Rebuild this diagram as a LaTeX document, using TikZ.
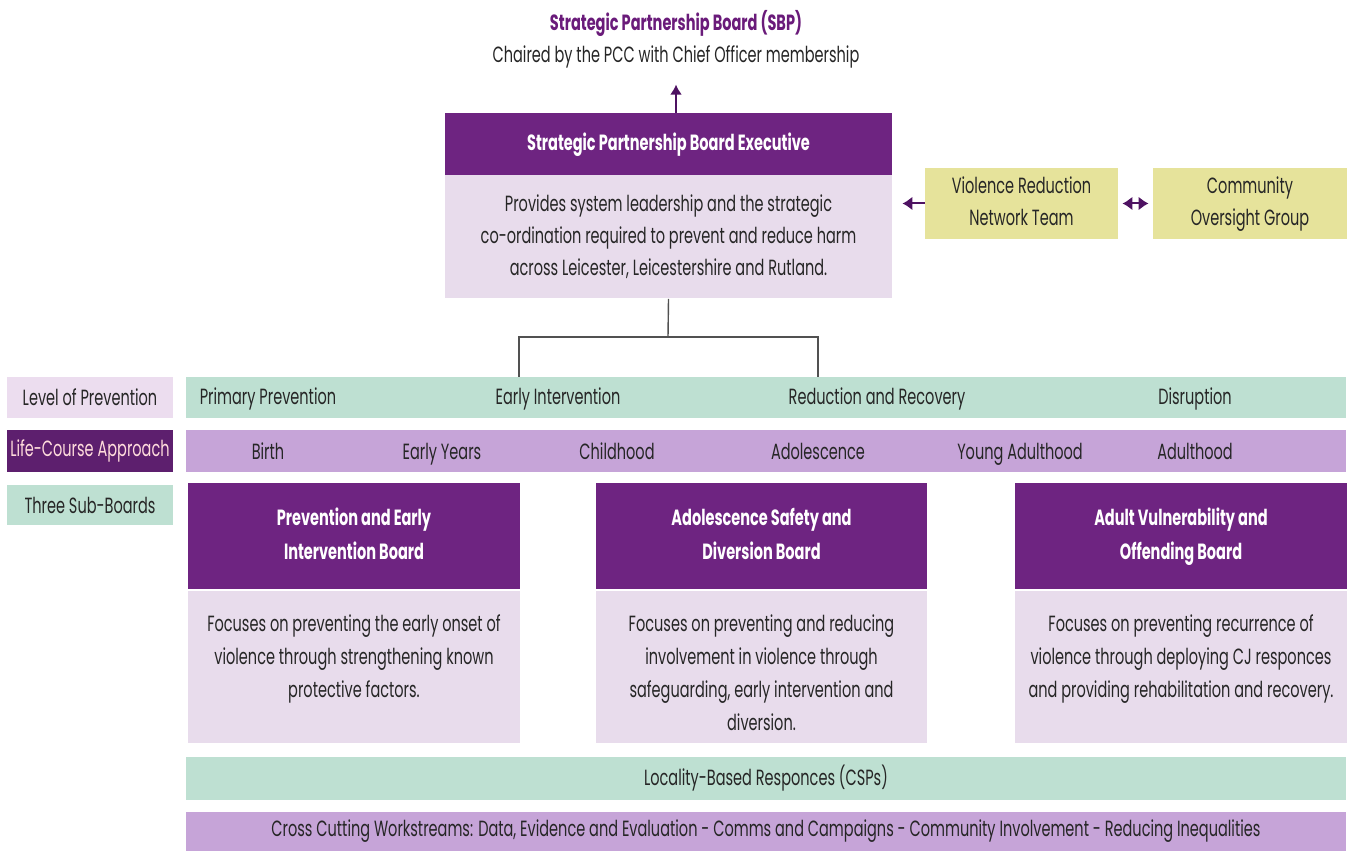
\documentclass[tikz,border=0pt]{standalone}
\usepackage{fontspec}
\setmainfont{Poppins}[FakeStretch=0.66]
\usepackage{xcolor}
\usetikzlibrary{arrows.meta}

\definecolor{darkpurple}{HTML}{6E2481}
\definecolor{lightbody}{HTML}{E8DCEC}
\definecolor{lavlabel}{HTML}{ECDDEF}
\definecolor{lavbar}{HTML}{C6A4D8}
\definecolor{mintbar}{HTML}{BEE0D2}
\definecolor{sandbox}{HTML}{E6E39B}
\definecolor{titlepurple}{HTML}{6A1B7A}
\definecolor{arrowpurple}{HTML}{4E1262}
\definecolor{inktext}{HTML}{262626}

\begin{document}
\begin{tikzpicture}[x=0.5pt,y=-0.5pt,
	every node/.style={text=inktext,font={\fontsize{11}{16}\selectfont}},
	hdr/.style={fill=darkpurple,text=white,align=center,inner sep=0pt,font={\fontsize{11}{17}\selectfont\bfseries}},
	bodybox/.style={fill=lightbody,align=center,inner sep=0pt},
	boardbody/.style={fill=lightbody,inner sep=0pt,anchor=north,font={\fontsize{11}{16.5}\selectfont}},
	mint/.style={fill=mintbar,inner sep=0pt},
	lav/.style={fill=lavbar,inner sep=0pt},
	sand/.style={fill=sandbox,align=center,inner sep=0pt},
	rowtxt/.style={inner sep=0pt,text height=8.5pt,text depth=2.5pt},
	tip/.style={-{Latex[length=5pt,width=7pt]},arrowpurple,line width=1pt}]

	\useasboundingbox (0,0) rectangle (1349,855);

	% top of the structure
	\node (sbp) at (676,23) {\bfseries\color{titlepurple}Strategic Partnership Board (SBP)};
	\node (chair) at (676,57) {Chaired by the PCC with Chief Officer membership};

	\node[hdr,minimum width=223.5pt,minimum height=32pt] (exechd) at (668.5,145) {Strategic Partnership Board Executive};
	\node[bodybox,minimum width=223.5pt,minimum height=61.5pt] (execbody) at (668.5,237) {\strut Provides system leadership and the strategic\\co-ordination required to prevent and reduce harm\\across Leicester, Leicestershire and Rutland.\strut};

	\node[sand,minimum width=96.5pt,minimum height=35.5pt] (vrn) at (1021.5,203.5) {\strut Violence Reduction\\Network Team\strut};
	\node[sand,minimum width=97pt,minimum height=35.5pt] (cog) at (1250,203.5) {\strut Community\\Oversight Group\strut};

	\draw[tip,-{Latex[length=5pt,width=6pt]}] (exechd.north -| chair) -- ++(0,-28);
	\draw[tip,shorten >=5pt] (vrn.west) -- (execbody.east |- vrn.west);
	\draw[tip,{Latex[length=5pt,width=7pt]}-{Latex[length=5pt,width=7pt]},shorten <=2pt,shorten >=2pt] (vrn.east) -- (cog.west);

	% row labels
	\node[fill=lavlabel,minimum width=83pt,minimum height=20.5pt,inner sep=0pt] (lvllbl) at (90,397.5) {Level of Prevention};
	\node[fill=darkpurple!85!black,text=pink!55!white,minimum width=83pt,minimum height=21pt,inner sep=0pt] (lifelbl) at (90,451) {Life-Course Approach};
	\node[mint,minimum width=83pt,minimum height=20pt] (subslbl) at (90,505) {Three Sub-Boards};

	\node[mint,minimum width=580pt,minimum height=20.5pt] (lvlbar) at (766,397.5) {};
	\node[lav,minimum width=580pt,minimum height=21pt] (lifebar) at (766,451) {};

	\node[rowtxt] (primary) at (268,399) {Primary Prevention};
	\node[rowtxt] (earlyint) at (558,399) {Early Intervention};
	\node[rowtxt] (reduction) at (877,399) {Reduction and Recovery};
	\node[rowtxt] (disrupt) at (1195,399) {Disruption};

	\node[rowtxt] (birth) at (268,453) {Birth};
	\node[rowtxt] (earlyyrs) at (442,453) {Early Years};
	\node[rowtxt] (child) at (617,453) {Childhood};
	\node[rowtxt] (adolesc) at (818,453) {Adolescence};
	\node[rowtxt] (youngad) at (1020,453) {Young Adulthood};
	\node[rowtxt] (adult) at (1195,453) {Adulthood};

	% link from the executive down to the bars
	\coordinate (split) at (668,337);
	\coordinate (fl) at (519,337);
	\coordinate (fr) at (818,337);
	\draw[inktext!80,line width=0.7pt] (execbody.south) -- (split);
	\draw[inktext!80,line width=0.7pt] (fl |- lvlbar.north) -- (fl) -- (fr) -- (fr |- lvlbar.north);

	% the three sub-boards
	\node[hdr,minimum width=166pt,minimum height=53pt] (pehd) at (354,536) {\strut Prevention and Early\\Intervention Board\strut};
	\node[boardbody] (pebody) at (354,591) {\parbox[t][76pt][t]{166pt}{\centering\vspace{8.5pt}\strut Focuses on preventing the early onset of\\violence through strengthening known\\protective factors.}};

	\node[hdr,minimum width=165.5pt,minimum height=53pt] (ashd) at (761.5,536) {\strut Adolescence Safety and\\Diversion Board\strut};
	\node[boardbody] (asbody) at (761.5,591) {\parbox[t][76pt][t]{165.5pt}{\centering\vspace{8.5pt}\strut Focuses on preventing and reducing\\involvement in violence through\\safeguarding, early intervention and\\diversion.}};

	\node[hdr,minimum width=166pt,minimum height=53pt] (avhd) at (1181,536) {\strut Adult Vulnerability and\\Offending Board\strut};
	\node[boardbody] (avbody) at (1181,591) {\parbox[t][76pt][t]{166pt}{\centering\vspace{8.5pt}\strut Focuses on preventing recurrence of\\violence through deploying CJ responces\\and providing rehabilitation and recovery.}};

	% bottom bars
	\node[mint,minimum width=580pt,minimum height=21.5pt] (locbar) at (766,778.5) {Locality-Based Responces (CSPs)};
	\node[lav,minimum width=580pt,minimum height=19.5pt] (crossbar) at (766,831.5) {Cross Cutting Workstreams: Data, Evidence and Evaluation - Comms and Campaigns - Community Involvement - Reducing Inequalities};
\end{tikzpicture}
\end{document}
